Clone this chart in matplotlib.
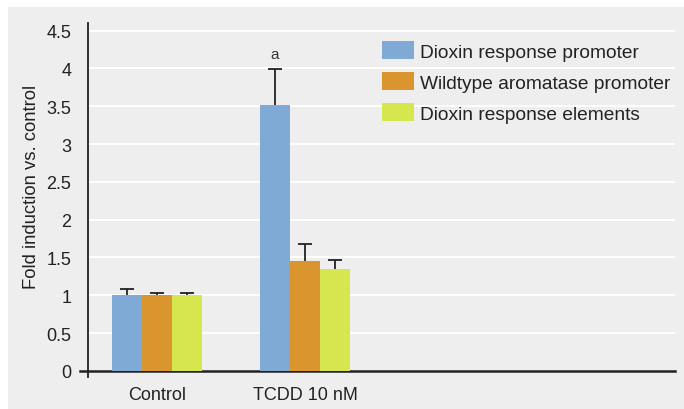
import numpy as np
import matplotlib.pyplot as plt
from matplotlib.patches import Rectangle

plt.rcParams['font.family'] = ['Liberation Sans', 'DejaVu Sans']

categories = ["Control", "TCDD 10 nM", "", ""]
series = ["Dioxin response promoter", "Wildtype aromatase promoter", "Dioxin response elements"]
values = [[1.0, 3.52], [1.0, 1.455], [1.0, 1.35]]
errors = [[0.085, 0.47], [0.03, 0.225], [0.03, 0.12]]
colors = ["#7faad6", "#db952f", "#d5e64f"]
yticks = [0, 0.5, 1, 1.5, 2, 2.5, 3, 3.5, 4, 4.5]

fig = plt.figure(figsize=(6.84, 4.10), dpi=100)
fig.patch.set_facecolor("white")
fig.patches.append(Rectangle((8 / 684, 0), 1 - 8 / 684, 1 - 8 / 410, transform=fig.transFigure,
                             facecolor="#eeeeee", edgecolor="none", zorder=-10))

ax = fig.add_axes([80 / 684, (410 - 378) / 410, (675 - 80) / 684, (378 - 24) / 410])
ax.set_facecolor("none")

for s in ["top", "right"]:
    ax.spines[s].set_visible(False)
y_left = -0.466
ax.spines["left"].set_position(("data", y_left))
ax.spines["bottom"].set_position(("data", 0))
ax.spines["left"].set_linewidth(1.3)
ax.spines["bottom"].set_linewidth(1.8)
ax.spines["left"].set_color("#222222")
ax.spines["bottom"].set_color("#222222")

x = np.arange(len(categories))
w = 0.203
cap = 0.05
for i, (name, vals, errs, col) in enumerate(zip(series, values, errors, colors)):
    pos = x[:2] + (i - 1) * w
    vals = np.array(vals)
    tops = vals + np.array(errs)
    ax.bar(pos, vals, width=w, color=col, label=name, zorder=3)
    ax.vlines(pos, vals, tops, colors="#222222", linewidth=1.3, zorder=2)
    ax.hlines(tops, pos - cap, pos + cap, colors="#222222", linewidth=1.3, zorder=2)

ax.text(x[1] - w, 3.99 + 0.11, "a", ha="center", va="bottom", fontsize=11, color="#333333")

ax.hlines(yticks[1:], y_left, 3.5, colors="white", linewidth=1.4, zorder=1)

ax.set_xlim(-0.52, 3.5)
ax.set_ylim(-0.08, 4.6)
ax.set_yticks(yticks)
ax.set_yticklabels([f"{t:g}" for t in yticks])
ax.set_xticks(x[:2])
ax.set_xticklabels(categories[:2])
ax.tick_params(axis="both", length=0, labelsize=13, labelcolor="#222222")
ax.tick_params(axis="y", pad=12)
ax.tick_params(axis="x", pad=11)

ax.set_ylabel("Fold induction vs. control", fontsize=13.3, color="#222222")
ax.yaxis.set_label_coords(-0.067, 0.54)

ax.legend(loc="upper left", bbox_to_anchor=(0.478, 0.997), frameon=False, fontsize=13.8,
          handlelength=1.7, handleheight=1.05, handletextpad=0.28, labelspacing=0.6,
          labelcolor="#222222")

fig.savefig("out.png", dpi=100)
